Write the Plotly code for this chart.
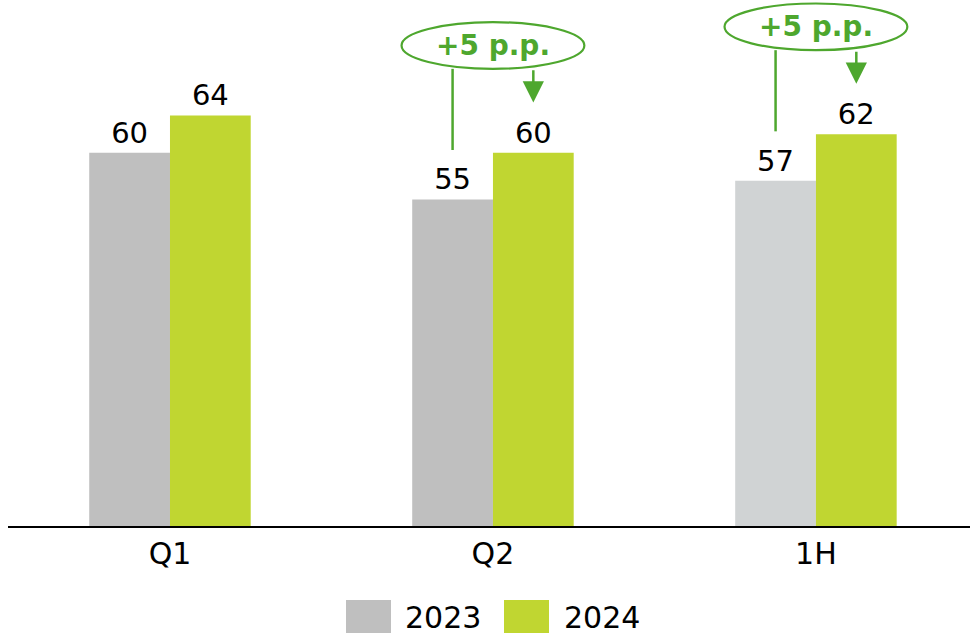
import plotly.graph_objects as go

categories = ["Q1", "Q2", "1H"]
values_2023 = [60, 55, 57]
values_2024 = [64, 60, 62]
colors_2023 = ["#BFBFBF", "#BFBFBF", "#D0D3D4"]
color_2024 = "#C0D631"
accent = "#4EA72E"
change_labels = [None, "+5 p.p.", "+5 p.p."]

FONT = "DejaVu Sans"
W, H = 971, 634
PL, PR, PT, PB = 8, 1, 0, 108
plot_w = W - PL - PR
plot_h = H - PT - PB

def px_x(px):
    return (px - PL) / plot_w

def px_y(py):
    return (H - PB - py) / plot_h

fig = go.Figure()
fig.add_trace(go.Bar(
    x=categories, y=values_2023, name="2023",
    marker=dict(color=colors_2023, line=dict(width=0)),
    text=[str(v) for v in values_2023], textposition="outside",
    textfont=dict(family=FONT, size=29, color="#000000"),
    cliponaxis=False, showlegend=False, hoverinfo="skip",
))
fig.add_trace(go.Bar(
    x=categories, y=values_2024, name="2024",
    marker=dict(color=color_2024, line=dict(width=0)),
    text=[str(v) for v in values_2024], textposition="outside",
    textfont=dict(family=FONT, size=29, color="#000000"),
    cliponaxis=False, showlegend=False, hoverinfo="skip",
))

half_ellipse = 0.283
bar_off = 0.125
for i, lab in enumerate(change_labels):
    if lab is None:
        continue
    g = values_2024[i]
    a = values_2023[i]
    e_bot = g + 9.0
    e_top = g + 14.0
    fig.add_shape(type="circle", xref="x", yref="y",
                  x0=i - half_ellipse, x1=i + half_ellipse, y0=e_bot, y1=e_top,
                  line=dict(color=accent, width=2.2), fillcolor="rgba(0,0,0,0)")
    fig.add_annotation(x=i, y=(e_bot + e_top) / 2, xref="x", yref="y",
                       text="<b>" + lab + "</b>", showarrow=False,
                       font=dict(family=FONT, size=28, color=accent),
                       xanchor="center", yanchor="middle")
    fig.add_shape(type="line", xref="x", yref="y",
                  x0=i - bar_off, x1=i - bar_off, y0=e_bot, y1=a + 5.3,
                  line=dict(color=accent, width=2.5))
    fig.add_annotation(x=i + bar_off, y=g + 5.4, ax=i + bar_off, ay=e_bot,
                       xref="x", yref="y", axref="x", ayref="y",
                       text="", showarrow=True, arrowhead=2, arrowsize=1.7,
                       arrowwidth=2.5, arrowcolor=accent)

# manual legend
legend_items = [("2023", "#BFBFBF", 346, 403), ("2024", color_2024, 504, 562)]
for name, col, sx, tx in legend_items:
    fig.add_shape(type="rect", xref="paper", yref="paper",
                  x0=px_x(sx), x1=px_x(sx + 45), y0=px_y(633), y1=px_y(600),
                  fillcolor=col, line=dict(width=0))
    fig.add_annotation(xref="paper", yref="paper", x=px_x(tx), y=px_y(617),
                       text=name, showarrow=False, xanchor="left", yanchor="middle",
                       font=dict(family=FONT, size=30, color="#000000"))

fig.update_layout(
    width=W, height=H,
    margin=dict(l=PL, r=PR, t=PT, b=PB),
    paper_bgcolor="white", plot_bgcolor="white",
    barmode="group", bargap=0.5, bargroupgap=0,
    showlegend=False, hovermode=False,
    font=dict(family=FONT, size=30, color="#000000"),
)
fig.update_xaxes(type="category", range=[-0.5015, 2.477], showline=True,
                 linecolor="#000000", linewidth=2, ticks="", showgrid=False,
                 tickfont=dict(family=FONT, size=30, color="#000000"))
fig.update_yaxes(range=[20, 20 + plot_h / 9.33], visible=False, showgrid=False)

fig.write_html("out.html", config={"displayModeBar": False},
               post_script="document.body.style.margin='0';document.body.style.overflow='hidden';")
